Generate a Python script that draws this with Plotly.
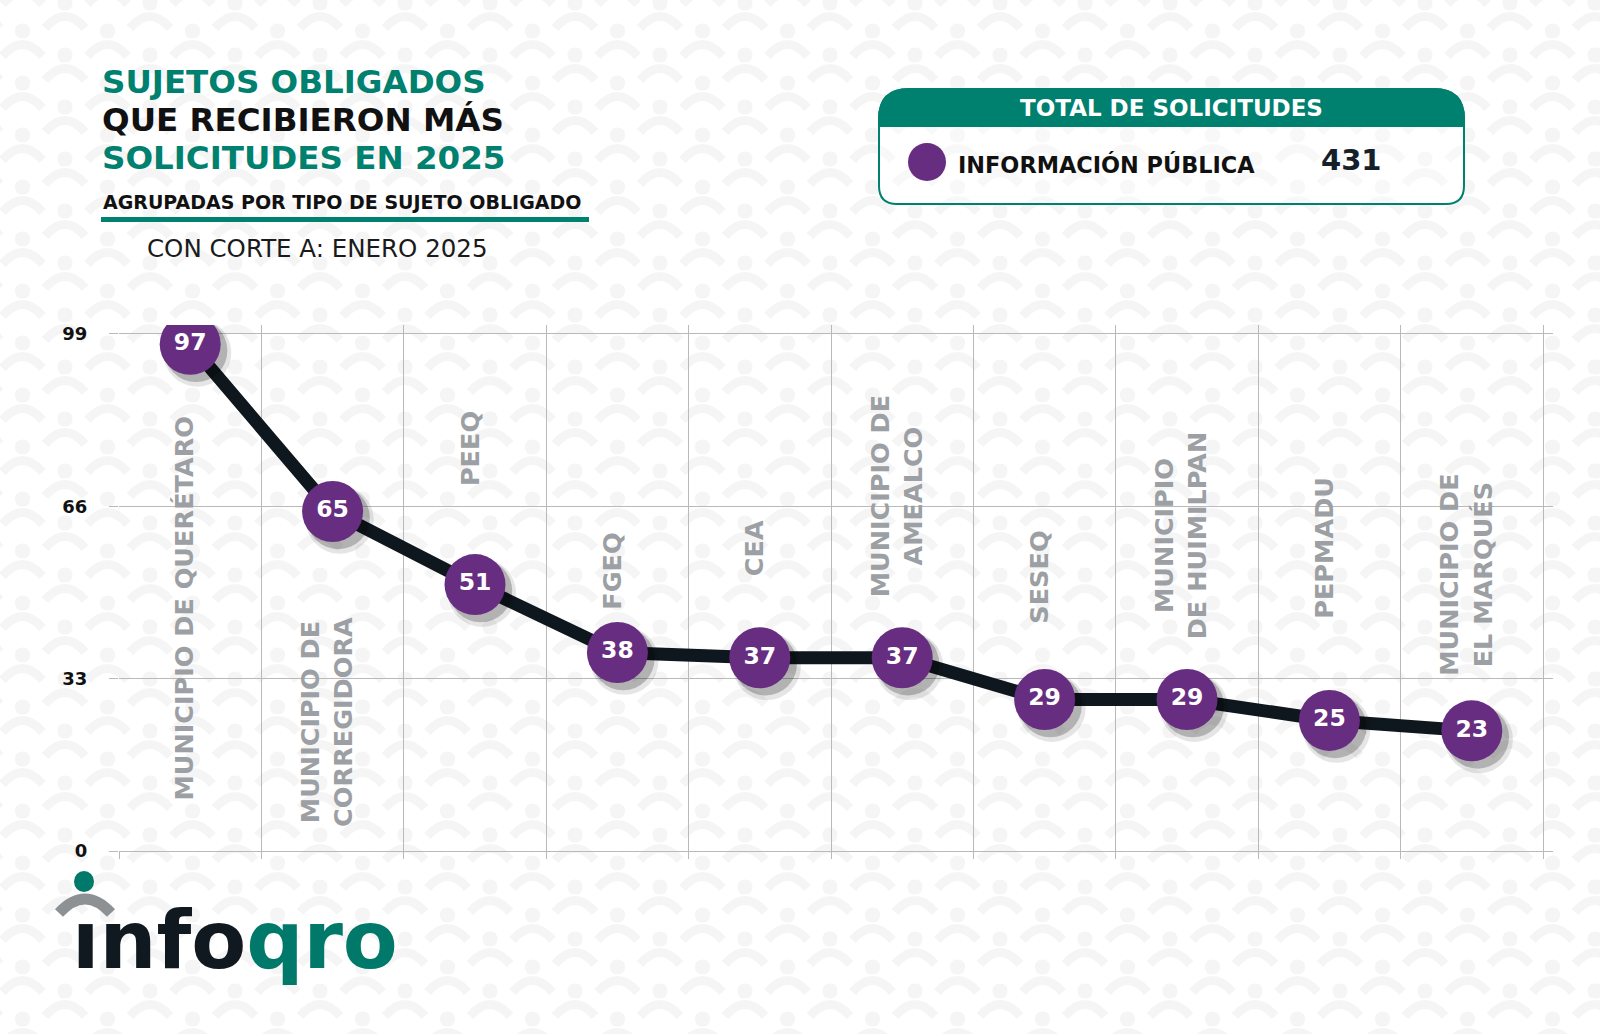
import plotly.graph_objects as go

# ---------------- data ----------------
categories = ["MUNICIPIO DE QUERÉTARO", "MUNICIPIO DE<br>CORREGIDORA", "PEEQ", "FGEQ", "CEA",
              "MUNICIPIO DE<br>AMEALCO", "SESEQ", "MUNICIPIO<br>DE HUIMILPAN", "PEPMADU",
              "MUNICIPIO DE<br>EL MARQUÉS"]
values = [97, 65, 51, 38, 37, 37, 29, 29, 25, 23]
y_ticks = [0, 33, 66, 99]
total_label = "INFORMACIÓN PÚBLICA"
total_value = 431

# ---------------- layout helpers ----------------
W, H = 1600, 1034
def px(x):
    return x / W
def py(y):
    return 1 - y / H

# label centre heights (axis units), layout only
label_y = [46.5, 24.7, 77.0, 53.6, 58.0, 67.8, 52.5, 60.5, 58.0, 52.9]

TEAL = "#00806f"
PURPLE = "#672d80"
DARK = "#0f171e"
GRID = "#b9b9b9"
LABEL_GRAY = "#9c9fa3"
PATTERN = "#f5f5f5"
FONT_B = "DejaVu Sans"

xs = list(range(len(categories)))

fig = go.Figure()
fig.add_trace(go.Scatter(x=xs, y=values, mode="lines",
                         line=dict(color=DARK, width=13), hoverinfo="skip", showlegend=False))
fig.add_trace(go.Scatter(x=[x + 0.05 for x in xs], y=[v - 1.6 for v in values], mode="markers",
                         marker=dict(size=68, color="rgba(0,0,0,0.10)"), hoverinfo="skip", showlegend=False))
fig.add_trace(go.Scatter(x=[x + 0.04 for x in xs], y=[v - 1.2 for v in values], mode="markers",
                         marker=dict(size=63, color="rgba(0,0,0,0.22)"), hoverinfo="skip", showlegend=False))
fig.add_trace(go.Scatter(x=xs, y=values, mode="markers+text",
                         marker=dict(size=61, color=PURPLE, line=dict(width=0)),
                         text=[str(v) for v in values], textposition="middle center",
                         textfont=dict(family=FONT_B, size=23.5, color="white", weight="bold"),
                         showlegend=False))

annotations = []
for i, (c, ly) in enumerate(zip(categories, label_y)):
    annotations.append(dict(x=i - 0.04, y=ly, xref="x", yref="y", text=c, textangle=-90,
                            showarrow=False, align="center",
                            font=dict(family=FONT_B, size=25.5, color=LABEL_GRAY, weight="bold")))

# title block
title_lines = [("SUJETOS OBLIGADOS", TEAL, 81.5), ("QUE RECIBIERON MÁS", "#111111", 119.8),
               ("SOLICITUDES EN 2025", TEAL, 158)]
for t, col, yy in title_lines:
    annotations.append(dict(x=px(100), y=py(yy), xref="paper", yref="paper", text=t,
                            xanchor="left", yanchor="middle", showarrow=False,
                            font=dict(family=FONT_B, size=32.5, color=col, weight="bold")))
annotations.append(dict(x=px(101), y=py(202), xref="paper", yref="paper",
                        text="AGRUPADAS POR TIPO DE SUJETO OBLIGADO",
                        xanchor="left", yanchor="middle", showarrow=False,
                        font=dict(family=FONT_B, size=19, color="#111111", weight="bold")))
annotations.append(dict(x=px(145), y=py(248), xref="paper", yref="paper",
                        text="CON CORTE A: ENERO 2025",
                        xanchor="left", yanchor="middle", showarrow=False,
                        font=dict(family=FONT_B, size=24.5, color="#1a1a1a")))

# total box texts
annotations.append(dict(x=px(1171), y=py(108), xref="paper", yref="paper",
                        text="TOTAL DE SOLICITUDES", xanchor="center", yanchor="middle",
                        showarrow=False, font=dict(family=FONT_B, size=23, color="white", weight="bold")))
annotations.append(dict(x=px(956), y=py(165), xref="paper", yref="paper",
                        text=total_label, xanchor="left", yanchor="middle",
                        showarrow=False, font=dict(family=FONT_B, size=22.4, color="#111111", weight="bold")))
annotations.append(dict(x=px(1351), y=py(160), xref="paper", yref="paper",
                        text=str(total_value), xanchor="center", yanchor="middle",
                        showarrow=False, font=dict(family=FONT_B, size=29, color="#16202a", weight="bold")))

# logo text
annotations.append(dict(x=px(70), y=py(968), xref="paper", yref="paper",
                        text="<span style='color:#101820'>ınfo</span><span style='color:#00796a'>qro</span>",
                        xanchor="left", yanchor="bottom", yshift=-21, showarrow=False,
                        font=dict(family=FONT_B, size=80, weight="bold")))

shapes = []
# background pattern (decorative)
dots, arcs = [], []
k = 0
xg = -20.0
while xg < W + 40:
    yg = 3.0 - (24 if k % 2 else 0)
    while yg < H + 40:
        r = 7.5
        dots.append(f"M {px(xg - r)},{py(yg)} Q {px(xg - r)},{py(yg - r)} {px(xg)},{py(yg - r)} "
                    f"Q {px(xg + r)},{py(yg - r)} {px(xg + r)},{py(yg)} "
                    f"Q {px(xg + r)},{py(yg + r)} {px(xg)},{py(yg + r)} "
                    f"Q {px(xg - r)},{py(yg + r)} {px(xg - r)},{py(yg)} Z")
        arcs.append(f"M {px(xg - 20)},{py(yg + 25)} Q {px(xg)},{py(yg + 2)} {px(xg + 20)},{py(yg + 25)}")
        yg += 52
    xg += 42.5
    k += 1
shapes.append(dict(type="path", xref="paper", yref="paper", path=" ".join(dots),
                   fillcolor=PATTERN, line=dict(width=0), layer="below"))
shapes.append(dict(type="path", xref="paper", yref="paper", path=" ".join(arcs),
                   fillcolor="rgba(0,0,0,0)", line=dict(color=PATTERN, width=9), layer="below"))

shapes.append(dict(type="rect", xref="paper", yref="paper", x0=px(101), x1=px(589),
                   y0=py(217), y1=py(222), fillcolor=TEAL, line=dict(width=0), layer="above"))

bx0, bx1, by0, by1, bh = 879, 1464, 89, 204, 126
rt, rb = 30, 18
def rr_path(x0, x1, y0, y1, rtop, rbot):
    return (f"M {px(x0)},{py(y0 + rtop)} Q {px(x0)},{py(y0)} {px(x0 + rtop)},{py(y0)} "
            f"L {px(x1 - rtop)},{py(y0)} Q {px(x1)},{py(y0)} {px(x1)},{py(y0 + rtop)} "
            f"L {px(x1)},{py(y1 - rbot)} Q {px(x1)},{py(y1)} {px(x1 - rbot)},{py(y1)} "
            f"L {px(x0 + rbot)},{py(y1)} Q {px(x0)},{py(y1)} {px(x0)},{py(y1 - rbot)} Z")
shapes.append(dict(type="path", xref="paper", yref="paper", path=rr_path(bx0, bx1, by0, by1, rt, rb),
                   fillcolor="rgba(255,255,255,0.35)", line=dict(color=TEAL, width=2), layer="below"))
head = (f"M {px(bx0)},{py(bh)} L {px(bx0)},{py(by0 + rt)} Q {px(bx0)},{py(by0)} {px(bx0 + rt)},{py(by0)} "
        f"L {px(bx1 - rt)},{py(by0)} Q {px(bx1)},{py(by0)} {px(bx1)},{py(by0 + rt)} L {px(bx1)},{py(bh)} Z")
shapes.append(dict(type="path", xref="paper", yref="paper", path=head,
                   fillcolor=TEAL, line=dict(color=TEAL, width=2), layer="below"))
shapes.append(dict(type="circle", xref="paper", yref="paper", x0=px(908), x1=px(946),
                   y0=py(143), y1=py(181), fillcolor=PURPLE, line=dict(width=0)))

# logo icon
shapes.append(dict(type="circle", xref="paper", yref="paper", x0=px(74), x1=px(94),
                   y0=py(871), y1=py(892), fillcolor="#00796a", line=dict(width=0)))
shapes.append(dict(type="path", xref="paper", yref="paper",
                   path=f"M {px(59)},{py(913)} Q {px(85)},{py(885)} {px(111)},{py(913)}",
                   line=dict(color="#8e9193", width=11), fillcolor="rgba(0,0,0,0)"))

fig.update_layout(
    width=W, height=H, margin=dict(l=0, r=0, t=0, b=0, pad=0, autoexpand=False),
    paper_bgcolor="white", plot_bgcolor="rgba(0,0,0,0)",
    annotations=annotations, shapes=shapes, showlegend=False,
    xaxis=dict(domain=[px(119), px(1553)], range=[-0.5, 9.57], automargin=False,
               tickvals=[i - 0.5 for i in range(11)], showticklabels=False,
               showgrid=True, gridcolor=GRID, gridwidth=1.3, zeroline=False,
               ticks="outside", ticklen=7, tickcolor=GRID, tickwidth=1.3, fixedrange=True),
    yaxis=dict(domain=[py(851), py(325)], range=[0, 100.7], tickvals=y_ticks, automargin=False,
               showgrid=True, gridcolor=GRID, gridwidth=1.3, zeroline=True, zerolinecolor=GRID,
               zerolinewidth=1.3, ticks="outside", ticklen=9, tickcolor=GRID, tickwidth=1.3,
               ticklabelstandoff=18,
               tickfont=dict(family=FONT_B, size=18, color="#111111", weight="bold"), fixedrange=True),
)

fig.write_html("out.html", config={"displayModeBar": False},
               post_script="document.body.style.margin='0';document.body.style.overflow='hidden';")
